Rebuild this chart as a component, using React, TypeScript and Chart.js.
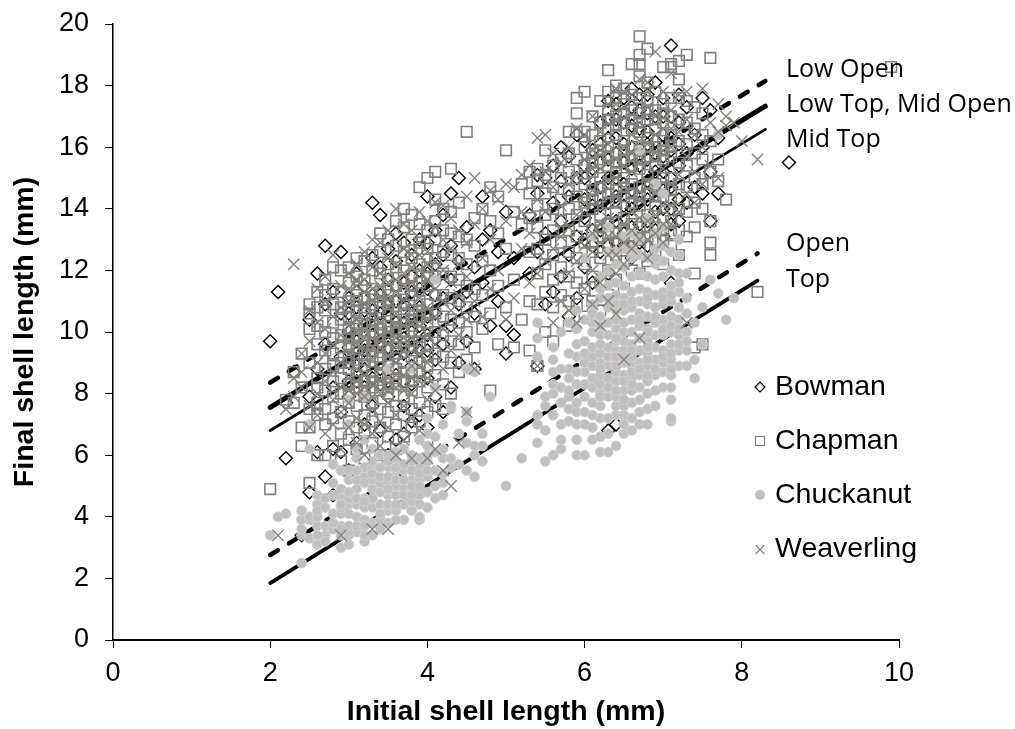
import React, { useEffect, useRef } from "react";
import { Chart, registerables } from "chart.js";

Chart.register(...registerables);

// Each row: initial shell length, then the final shell lengths read at that initial length
const bowmanRows = [
  [2.0, 9.7], [2.1, 11.3], [2.2, 5.9, 7.7], [2.3, 8.7], [2.4, 3.4], [2.5, 4.8, 7.9, 10.4], [2.6, 6.1, 8.8, 11.9],
  [2.7, 5.3, 9.6, 10.9, 12.8], [2.8, 4.7, 6.2, 8.2, 11.3], [2.9, 6.1, 7.4, 9.2, 10.6, 12.6], [3.0, 5.5, 7.9, 9.0, 10.0, 11.1],
  [3.1, 6.4, 8.4, 9.7, 10.8, 11.9], [3.2, 7.0, 8.8, 10.2, 11.5], [3.3, 5.6, 7.6, 9.4, 10.7, 12.4, 14.2], [3.4, 6.8, 8.3, 10.1, 11.2, 12.1, 13.8],
  [3.5, 6.0, 7.9, 9.0, 10.5, 11.7, 12.7], [3.6, 6.5, 8.6, 9.8, 11.0, 12.3, 13.2], [3.7, 6.7, 7.6, 9.3, 10.3, 11.6, 12.9], [3.8, 7.1, 8.9, 10.0, 11.3, 12.5],
  [3.9, 7.3, 9.4, 10.8, 12.0, 13.0], [4.0, 6.9, 8.5, 9.9, 11.4, 12.9, 14.4], [4.1, 7.9, 9.1, 10.6, 12.2, 13.3], [4.2, 7.4, 9.6, 11.1, 12.5, 13.8],
  [4.3, 8.2, 10.2, 11.7, 12.8, 14.5], [4.4, 9.0, 10.9, 12.3, 15.0], [4.5, 9.7, 11.3, 13.4], [4.6, 8.8, 10.6, 12.1], [4.7, 11.6, 13.0, 14.4],
  [4.8, 10.2, 13.3], [4.9, 11.0, 12.6], [5.0, 9.3, 10.2, 13.9], [5.1, 9.9, 12.4], [5.3, 11.9, 13.8], [5.4, 8.9, 12.6, 14.5, 15.1],
  [5.5, 10.9, 13.2, 15.0], [5.6, 11.3, 14.2, 15.4], [5.7, 11.8, 13.6, 14.9, 16.0], [5.8, 10.5, 12.5, 14.4, 15.7], [5.9, 11.1, 13.1, 15.0, 16.4],
  [6.0, 12.1, 13.7, 15.4, 16.2], [6.1, 11.6, 13.3, 14.6, 15.9], [6.2, 12.6, 14.1, 15.5, 16.8], [6.3, 6.8, 11.9, 13.6, 15.0, 16.3, 17.5], [6.4, 7.0, 12.9, 14.4, 15.8, 16.9],
  [6.5, 13.2, 14.8, 16.1, 17.6], [6.6, 12.4, 14.0, 15.3, 16.7, 17.9], [6.7, 13.5, 14.7, 15.9, 17.2], [6.8, 12.8, 14.3, 15.6, 16.5, 17.7], [6.9, 13.9, 15.2, 16.2, 18.1],
  [7.0, 13.1, 14.6, 15.7, 17.0], [7.1, 11.6, 14.0, 15.0, 16.3, 19.3], [7.2, 13.6, 15.4, 16.8, 17.7], [7.3, 14.2, 15.8, 17.3], [7.4, 14.7, 16.4],
  [7.5, 14.5, 16.0, 17.6], [7.6, 13.6, 15.2, 17.2], [7.7, 14.5, 16.3], [8.6, 15.5],
  // specks showing through the densest parts
  [3.0, 8.4, 9.5, 10.6], [3.1, 8.9, 10.2, 11.3], [3.2, 8.2, 9.4, 10.7], [3.3, 8.5, 9.9, 11.2], [3.4, 8.8, 9.6, 10.6], [3.5, 8.4, 9.5, 10.9], [3.6, 9.2, 10.3, 11.5],
  [3.7, 8.4, 9.8, 10.9], [3.8, 8.3, 9.5, 10.6, 11.8], [3.9, 8.7, 10.2, 11.4], [4.0, 9.4, 10.5, 11.9], [4.1, 9.8, 11.2],
  [6.0, 13.0, 14.3, 15.0], [6.1, 12.8, 14.1, 15.3], [6.2, 13.3, 14.7, 16.1], [6.3, 12.8, 14.2, 15.6, 16.9], [6.4, 13.6, 15.0, 16.3, 17.4], [6.5, 12.8, 14.1, 15.5, 16.8],
  [6.6, 13.4, 14.6, 16.0, 17.3], [6.7, 12.9, 14.2, 15.4, 16.6, 17.7], [6.8, 13.6, 14.9, 16.1, 17.1], [6.9, 13.3, 14.6, 15.8, 17.0], [7.0, 14.0, 15.2, 16.4, 17.6], [7.1, 13.5, 14.7, 15.9, 17.0], [7.2, 14.3, 16.1],
];
const chapmanRows = [
  [2.0, 4.9], [2.2, 7.8], [2.3, 7.7, 8.7], [2.4, 6.3, 6.9, 8.2, 9.3], [2.5, 5.1, 6.9, 7.5, 9.0, 10.1, 10.6, 10.9],
  [2.6, 6.0, 7.3, 7.7, 8.2, 8.5, 9.6, 10.2, 10.8, 11.3], [2.7, 6.0, 7.0, 7.5, 8.1, 8.8, 9.4, 10.0, 10.7, 11.2, 11.7],
  [2.8, 6.3, 7.2, 7.9, 8.4, 8.9, 9.3, 9.8, 10.3, 10.9, 11.4, 12.1], [2.9, 5.8, 6.7, 7.4, 8.0, 8.5, 9.0, 9.5, 9.9, 10.4, 10.8, 11.3, 12.0],
  [3.0, 5.5, 6.5, 7.1, 7.7, 8.3, 8.8, 9.2, 9.6, 10.1, 10.5, 11.0, 11.6, 12.1], [3.1, 6.2, 6.9, 7.6, 8.2, 8.6, 9.1, 9.5, 9.9, 10.3, 10.7, 11.2, 11.8, 12.4],
  [3.2, 5.9, 6.8, 7.3, 7.9, 8.4, 8.9, 9.3, 9.7, 10.2, 10.6, 11.1, 11.7, 12.3], [3.3, 6.4, 7.1, 7.7, 8.2, 8.7, 9.2, 9.6, 10.0, 10.4, 10.9, 11.4, 12.0, 12.5],
  [3.4, 6.0, 6.9, 7.5, 8.1, 8.6, 9.0, 9.5, 9.9, 10.3, 10.8, 11.3, 11.9, 12.6, 13.2], [3.5, 5.8, 6.6, 7.4, 8.0, 8.5, 8.9, 9.4, 9.8, 10.2, 10.7, 11.2, 11.7, 12.2, 13.0],
  [3.6, 6.2, 7.0, 7.6, 8.3, 8.8, 9.3, 9.7, 10.1, 10.5, 11.0, 11.5, 12.1, 12.8, 13.6], [3.7, 6.6, 7.3, 7.9, 8.4, 9.0, 9.5, 10.0, 10.4, 10.9, 11.4, 12.0, 12.6, 13.4, 14.0],
  [3.8, 6.9, 7.5, 8.1, 8.7, 9.2, 9.7, 10.2, 10.7, 11.2, 11.8, 12.4, 13.0, 13.8], [3.9, 7.1, 7.7, 8.4, 9.0, 9.5, 10.0, 10.5, 11.0, 11.6, 12.2, 12.9, 13.5, 14.7],
  [4.0, 6.5, 7.4, 8.2, 8.9, 9.6, 10.3, 10.9, 11.5, 12.1, 12.7, 13.3, 15.0], [4.1, 7.6, 8.6, 9.3, 10.0, 10.6, 11.2, 11.8, 12.4, 13.0, 13.6, 14.3, 15.2],
  [4.2, 7.5, 8.3, 9.2, 9.9, 10.5, 11.2, 11.9, 12.6, 13.3, 14.0], [4.3, 8.0, 9.0, 9.7, 10.4, 11.1, 11.8, 12.5, 13.2, 13.9, 15.3],
  [4.4, 8.7, 9.6, 10.3, 11.0, 11.7, 12.4, 13.1, 14.2], [4.5, 9.1, 10.0, 10.8, 11.5, 12.2, 13.0, 16.5], [4.6, 9.5, 10.5, 11.4, 12.8, 13.7],
  [4.7, 10.1, 11.2, 12.3, 14.0], [4.8, 8.1, 10.6, 12.0, 13.6, 14.7], [4.9, 9.6, 11.5, 13.2, 14.4], [5.0, 10.8, 12.7, 15.9], [5.1, 9.5, 11.7, 13.9],
  [5.2, 10.4, 13.5, 14.8], [5.3, 9.4, 11.0, 12.6, 13.7, 14.5, 15.2], [5.4, 8.9, 10.9, 11.9, 12.7, 13.4, 14.1, 14.9, 15.3],
  [5.5, 10.0, 11.3, 12.2, 13.0, 13.8, 14.5, 15.1, 15.9], [5.6, 9.7, 10.8, 11.7, 12.5, 13.3, 14.0, 14.7, 15.4], [5.7, 11.2, 12.1, 12.9, 13.6, 14.3, 15.0, 15.6],
  [5.8, 10.2, 11.0, 11.8, 12.6, 13.3, 14.0, 14.6, 15.2, 15.8, 16.5], [5.9, 10.9, 11.6, 12.4, 13.1, 13.8, 14.4, 15.0, 15.6, 16.5, 17.1, 17.6],
  [6.0, 10.5, 11.4, 12.2, 12.9, 13.6, 14.2, 14.8, 15.4, 16.0, 16.5, 17.8], [6.1, 11.0, 11.8, 12.6, 13.3, 14.0, 14.6, 15.2, 15.8, 16.4, 17.0],
  [6.2, 10.7, 11.6, 12.4, 13.1, 13.8, 14.4, 15.0, 15.6, 16.2, 16.8, 17.5], [6.3, 11.2, 12.0, 12.8, 13.5, 14.2, 14.8, 15.4, 16.0, 16.6, 17.2, 17.8, 18.5],
  [6.4, 11.7, 12.5, 13.2, 13.9, 14.6, 15.2, 15.8, 16.4, 17.0, 17.6, 18.0], [6.5, 11.4, 12.3, 13.0, 13.7, 14.4, 15.0, 15.6, 16.2, 16.8, 17.4, 17.9],
  [6.6, 12.0, 12.8, 13.5, 14.2, 14.8, 15.4, 16.0, 16.6, 17.2, 17.7, 18.7], [6.7, 11.9, 12.7, 13.4, 14.1, 14.7, 15.3, 15.9, 16.5, 17.1, 17.6, 18.3, 18.7, 19.0, 19.6],
  [6.8, 12.3, 13.1, 13.8, 14.5, 15.1, 15.7, 16.3, 16.9, 17.5, 18.1, 19.2], [6.9, 12.6, 13.4, 14.1, 14.8, 15.4, 16.0, 16.6, 17.2, 17.8],
  [7.0, 12.2, 13.0, 13.7, 14.4, 15.0, 15.6, 16.2, 16.8, 17.4, 18.6], [7.1, 12.8, 13.6, 14.3, 15.0, 15.7, 16.4, 17.0, 17.6, 18.6, 18.7],
  [7.2, 12.5, 13.3, 14.0, 14.8, 15.5, 16.2, 16.9, 17.6, 18.2, 18.8], [7.3, 13.1, 13.9, 14.7, 15.4, 16.1, 16.8, 17.5, 19.0], [7.4, 9.5, 11.9, 13.4, 14.2, 15.0, 15.8, 16.6, 17.3],
  [7.5, 9.6, 14.0, 14.8, 15.6, 16.4, 17.1], [7.6, 12.5, 12.9, 13.6, 15.2, 16.2, 18.9], [7.7, 14.9, 15.6], [7.8, 14.3], [8.2, 11.3], [9.9, 18.6],
  // densest parts of both clumps
  [3.0, 8.0, 9.0, 9.8, 10.8], [3.1, 8.4, 9.3, 10.1, 11.0], [3.2, 8.1, 9.1, 9.9, 10.8], [3.3, 8.4, 9.4, 10.2],
  [3.4, 8.3, 9.2, 10.1, 11.0], [3.5, 8.2, 9.1, 10.0, 10.9], [3.6, 8.5, 9.5, 10.3], [3.7, 8.7, 9.7, 10.6],
  [3.8, 8.4, 9.4, 10.4, 11.5], [3.9, 8.7, 9.7, 10.7], [4.0, 9.2, 10.6, 11.8],
  [6.1, 12.9, 14.3, 15.5], [6.2, 13.4, 14.7, 15.9], [6.3, 13.2, 14.5, 15.7, 16.9], [6.4, 12.9, 14.2, 15.5, 16.7], [6.5, 13.3, 14.7, 15.9, 17.1],
  [6.6, 13.1, 14.5, 15.7, 16.9], [6.7, 13.0, 14.4, 15.6, 16.8], [6.8, 13.4, 14.8, 16.0, 17.2], [6.9, 13.0, 14.4, 15.7, 16.9], [7.0, 13.3, 14.7, 15.9, 17.1], [7.1, 13.2, 14.6, 16.0],
];
const chuckanutRows = [
  [2.0, 3.4], [2.1, 4.0], [2.2, 4.1], [2.4, 2.5, 3.4, 3.6, 3.9, 4.2], [2.5, 3.3, 3.9, 4.0, 6.2, 7.0], [2.6, 3.1, 3.7, 4.0, 4.4, 4.7],
  [2.7, 3.4, 3.7, 4.6], [2.8, 3.6, 4.1, 5.1, 5.7], [2.9, 3.0, 3.4, 3.7, 4.1, 4.3, 4.6, 4.9, 5.5], [3.0, 3.1, 3.7, 4.1, 4.4, 4.6, 5.2, 7.0, 7.8],
  [3.1, 3.5, 4.0, 4.4, 4.9, 5.9, 6.2], [3.2, 3.2, 3.4, 3.9, 4.3, 4.6, 5.3, 5.6, 6.5, 7.9], [3.3, 3.8, 4.3, 4.6, 5.2, 5.6, 6.2], [3.4, 3.7, 3.9, 4.4, 5.1, 6.0],
  [3.5, 3.8, 4.2, 4.7, 5.1, 5.6, 6.0, 8.8], [3.6, 4.2, 4.7, 5.0, 5.5, 5.8, 6.1], [3.7, 3.9, 4.4, 4.9, 5.5, 6.2], [3.8, 4.2, 4.5, 4.9, 5.2, 5.8, 8.8],
  [3.9, 3.9, 4.0, 4.7, 5.2, 5.6, 5.9, 6.5], [4.0, 4.3, 5.3, 6.0, 6.7, 7.2], [4.1, 4.6, 6.6, 8.2, 11.7], [4.2, 4.7, 5.1, 5.9, 7.0], [4.3, 5.6, 5.9, 7.5, 7.6],
  [4.4, 5.7, 6.7], [4.5, 5.5, 6.4, 7.1, 7.4, 8.8], [4.6, 5.3, 6.0, 6.3, 8.7], [4.7, 5.8, 6.3, 6.7], [4.8, 7.9], [5.0, 5.0], [5.2, 5.9],
  [5.4, 6.4, 7.0, 7.3, 9.2, 9.8, 10.3], [5.5, 5.8, 6.8, 7.6, 7.9], [5.6, 6.0, 7.3, 8.3, 9.1, 9.5], [5.7, 6.2, 6.5, 7.0, 7.7, 10.0],
  [5.8, 7.5, 7.9, 8.5, 8.8, 10.3], [5.9, 6.0, 6.5, 7.0, 7.4, 7.7, 9.2, 10.1, 10.7], [6.0, 6.0, 7.0, 7.4, 7.9, 8.7, 9.0, 9.3, 12.4], [6.1, 6.5, 6.9, 8.2, 8.5, 8.9, 9.2, 10.0, 10.3, 10.6, 13.1],
  [6.2, 6.1, 6.6, 7.2, 7.6, 8.0, 8.3, 8.6, 9.0, 9.3, 9.9, 10.2, 10.5, 11.1, 11.4], [6.3, 6.1, 6.7, 8.5, 8.9, 9.2, 9.5, 9.9, 10.3, 10.8, 11.1, 11.5, 12.0, 13.4],
  [6.4, 6.3, 7.3, 7.6, 8.4, 8.7, 9.0, 9.4, 9.7, 10.1, 10.4, 10.7, 11.2, 11.6, 12.2], [6.5, 6.7, 7.0, 7.3, 7.6, 8.1, 8.6, 9.0, 9.4, 9.7, 10.0, 10.3, 10.7, 11.1, 11.5, 12.1, 13.1],
  [6.6, 6.8, 7.2, 7.7, 8.1, 8.5, 8.9, 9.2, 9.6, 10.0, 10.4, 10.8, 11.3, 11.8, 12.4, 13.2], [6.7, 7.0, 7.4, 7.8, 8.2, 8.6, 9.0, 9.4, 9.8, 10.2, 10.6, 11.0, 11.4, 11.9, 12.5, 15.9],
  [6.8, 7.0, 7.5, 8.0, 8.4, 8.9, 9.3, 9.7, 10.1, 10.5, 10.9, 11.3, 11.8, 12.4, 13.7], [6.9, 7.6, 8.1, 8.6, 9.1, 9.5, 9.9, 10.3, 10.8, 11.2, 11.7, 12.2, 12.7, 13.2, 14.8],
  [7.0, 8.2, 8.7, 9.0, 9.4, 9.9, 10.4, 10.9, 11.3, 11.8, 12.3, 12.8, 14.5], [7.1, 7.1, 7.2, 7.8, 8.2, 8.6, 9.1, 9.6, 10.0, 10.5, 11.0, 11.5, 12.0, 12.6], [7.2, 8.9, 9.4, 9.9, 10.4, 10.8, 11.3, 11.9, 12.5],
  [7.3, 8.9, 9.4, 10.0, 11.1, 11.9], [7.4, 8.5, 9.1, 10.3], [7.5, 9.6, 10.8], [7.6, 11.7], [7.7, 11.25, 16.4], [7.8, 10.4], [7.9, 11.1],
  // fuller parts of both clumps
  [2.6, 3.4, 4.2], [2.7, 3.2, 4.3], [2.8, 3.8, 4.7], [2.9, 3.6, 4.4], [3.0, 3.4, 4.8, 5.5], [3.1, 3.7, 4.6, 5.2, 5.5], [3.2, 3.7, 4.5, 5.1],
  [3.3, 3.4, 4.9, 5.4, 5.8], [3.4, 3.6, 4.1, 4.8, 5.3, 5.6], [3.5, 4.4, 4.9, 5.3, 5.8], [3.6, 3.9, 4.4, 5.2, 5.6],
  [3.7, 4.7, 5.2, 5.7], [3.8, 4.7, 5.0, 5.5, 6.0], [3.9, 4.4, 5.0, 5.4], [4.0, 4.8, 5.5, 5.8, 6.3], [4.1, 5.0, 5.5, 6.1], [4.2, 5.4, 6.2],
  [5.6, 8.0, 8.7], [5.7, 8.2, 8.8], [5.8, 7.1, 8.1, 9.3], [5.9, 8.3, 8.7, 9.6], [6.0, 8.3, 9.7, 10.4], [6.1, 7.3, 7.7, 9.5, 10.9], [6.2, 7.9, 8.8, 9.6, 11.8], [6.3, 7.2, 7.9, 8.2, 12.6],
  [6.4, 7.9, 8.1, 8.9, 9.2, 9.8, 10.9, 12.6], [6.5, 7.8, 8.4, 9.2, 10.9, 12.7], [6.6, 8.3, 8.7, 9.4, 11.0, 12.7], [6.7, 8.8, 10.4, 13.0], [6.8, 8.6, 9.1, 9.5, 10.0, 11.1],
  [6.9, 8.8, 10.5, 12.4], [7.0, 9.2, 10.1, 11.1, 13.4], [7.1, 8.8, 9.3, 10.2, 11.2], [7.2, 9.6, 10.1, 11.6, 13.0], [7.3, 9.7, 10.6],
];
const weaverlingRows = [
  [2.1, 3.4], [2.2, 7.5], [2.3, 7.9, 8.5, 12.2], [2.4, 8.2, 8.7, 9.3], [2.5, 6.9, 7.6, 9.7, 10.7], [2.6, 7.3, 8.0, 9.0, 10.3, 11.4],
  [2.7, 6.7, 8.4, 9.3, 10.1, 11.0, 11.8], [2.8, 7.0, 7.8, 8.7, 9.6, 10.5, 12.5], [2.9, 3.4, 6.2, 7.4, 8.2, 9.0, 9.9, 10.8, 11.5], [3.0, 6.9, 7.7, 8.5, 9.3, 10.2, 11.0, 11.9],
  [3.1, 6.4, 7.2, 8.0, 8.8, 9.6, 10.4, 11.5, 12.2], [3.2, 6.0, 7.0, 7.9, 8.6, 9.4, 10.1, 10.9, 11.7, 12.6], [3.3, 3.6, 6.7, 7.5, 8.3, 9.1, 9.8, 10.6, 11.4, 12.1, 13.0],
  [3.4, 6.3, 7.1, 8.0, 8.8, 9.5, 10.3, 11.1, 11.9, 12.9], [3.5, 3.6, 6.9, 7.7, 8.5, 9.2, 10.0, 10.8, 11.6, 12.4, 13.3], [3.6, 6.0, 7.3, 8.2, 9.0, 9.8, 10.6, 11.3, 12.2, 14.0],
  [3.7, 6.5, 7.6, 8.6, 9.4, 10.2, 11.0, 11.9, 12.7, 13.5], [3.8, 5.9, 7.2, 8.0, 8.9, 9.8, 10.7, 11.6, 12.5, 13.3], [3.9, 6.8, 8.4, 9.3, 10.2, 11.1, 12.0, 12.9, 13.9],
  [4.0, 5.9, 7.8, 9.0, 9.9, 10.8, 11.7, 12.6, 13.6], [4.1, 6.2, 8.1, 9.6, 10.5, 11.4, 12.3, 13.4, 14.2], [4.2, 5.5, 8.8, 10.1, 11.0, 12.0, 13.0, 14.1],
  [4.3, 5.0, 9.4, 10.7, 11.6, 12.7, 13.7], [4.4, 6.4, 9.9, 11.2, 12.2, 13.3], [4.5, 7.4, 10.4, 11.8, 12.9, 14.4], [4.6, 8.8, 11.0, 13.5, 15.0],
  [4.7, 10.5, 12.4, 14.0], [4.8, 11.4, 13.0, 14.6], [4.9, 12.0, 14.3], [5.0, 10.4, 13.6, 14.8], [5.1, 11.1, 14.7], [5.2, 12.7, 13.9, 15.1],
  [5.3, 11.6, 13.2, 15.4], [5.4, 8.9, 11.9, 14.3, 16.3], [5.5, 12.3, 13.9, 15.2, 16.4], [5.6, 10.3, 12.7, 14.7, 15.8], [5.7, 11.0, 13.1, 14.1, 15.5],
  [5.8, 10.7, 11.9, 13.4, 14.8, 16.0], [5.9, 10.3, 12.3, 13.8, 15.1, 16.6], [6.0, 11.4, 12.8, 14.2, 15.6, 16.4], [6.1, 10.9, 12.0, 13.2, 14.6, 15.9, 17.0],
  [6.2, 10.2, 11.6, 12.9, 14.1, 15.3, 16.5], [6.3, 11.0, 12.5, 13.7, 14.9, 16.1, 17.4], [6.4, 10.6, 11.9, 13.1, 14.4, 15.6, 16.9, 17.9], [6.5, 9.1, 12.2, 13.5, 14.7, 16.0, 17.3],
  [6.6, 12.7, 13.9, 15.2, 16.4, 17.7], [6.7, 9.8, 13.0, 14.3, 15.5, 16.8, 18.2], [6.8, 12.4, 13.6, 14.9, 16.1, 17.3, 18.1], [6.9, 13.2, 14.5, 15.8, 17.0, 19.1],
  [7.0, 12.9, 14.1, 15.3, 16.6, 17.8], [7.1, 13.5, 14.8, 16.0, 17.2, 18.4], [7.2, 13.9, 15.1, 16.5, 17.7], [7.3, 10.3, 14.5, 15.7, 16.9, 17.8], [7.4, 14.2, 15.2, 16.4],
  [7.5, 14.8, 16.0, 17.9], [7.6, 15.4, 16.8], [7.7, 15.0, 16.5, 17.4], [7.8, 16.7, 17.0], [7.9, 16.8], [8.0, 16.2], [8.2, 15.6],
  // densest parts of both clumps
  [3.0, 8.1, 9.7, 11.4], [3.1, 8.4, 10.0, 11.7], [3.2, 8.2, 9.8, 11.3], [3.3, 7.9, 9.5, 11.0],
  [3.4, 8.4, 9.9, 11.5], [3.5, 8.1, 9.6, 11.2], [3.6, 8.6, 10.2, 11.7], [3.7, 8.1, 9.8, 11.5], [3.8, 8.5, 10.3, 12.1], [3.9, 8.9, 10.7, 12.5], [4.0, 8.5, 10.4, 12.2],
  [6.1, 12.6, 15.3], [6.2, 13.5, 15.9], [6.3, 13.1, 15.5], [6.4, 12.5, 15.0, 17.4], [6.5, 12.9, 15.4, 17.8], [6.6, 13.3, 15.8], [6.7, 13.7, 16.2], [6.8, 13.0, 15.5, 17.8],
  [6.9, 13.8, 16.4], [7.0, 13.5, 15.9], [7.1, 14.1, 16.6],
];

const fitNames = ["Low Open", "Low Top, Mid Open", "Mid Top", "Open", "Top"];
const fitStartX = [2, 2, 2, 2, 2];
const fitEndX = [8.3, 8.3, 8.3, 8.2, 8.2];
const fitStartY = [8.36, 7.55, 6.8, 2.76, 1.85];
const fitEndY = [18.15, 17.33, 16.58, 12.55, 11.67];

const legendNames = ["Bowman", "Chapman", "Chuckanut", "Weaverling"];
const xTitle = "Initial shell length (mm)";
const yTitle = "Final shell length (mm)";

const toPoints = (rows: number[][]) =>
  rows.flatMap(([x, ...ys]) => ys.map((y) => ({ x, y })));

const fitStyle = [
  { w: 4.5, dash: [9, 13] },
  { w: 5, dash: [] },
  { w: 2.8, dash: [] },
  { w: 4.5, dash: [9, 13] },
  { w: 3.8, dash: [] },
];

const overlay = {
  id: "overlay",
  afterDraw(chart: any) {
    const { ctx } = chart;
    ctx.save();
    ctx.fillStyle = "#000";
    ctx.textBaseline = "middle";
    ctx.textAlign = "left";
    ctx.font = '25px "Open Sans"';
    const labelY = [70, 105, 140, 244, 280];
    fitNames.forEach((n, i) => ctx.fillText(n, 786, labelY[i]));

    ctx.font = '28.5px "Liberation Sans"';
    const legendY = [387, 441, 495, 549];
    legendNames.forEach((n, i) => ctx.fillText(n, 775, legendY[i]));

    const mx = 760;
    ctx.lineWidth = 1.2;
    // diamond
    ctx.strokeStyle = "#000";
    ctx.beginPath();
    ctx.moveTo(mx - 5, 387);
    ctx.lineTo(mx, 382);
    ctx.lineTo(mx + 5, 387);
    ctx.lineTo(mx, 392);
    ctx.closePath();
    ctx.stroke();
    // square
    ctx.strokeStyle = "#808080";
    ctx.strokeRect(mx - 4.5, 436.5, 9, 9);
    // circle
    ctx.fillStyle = "#c0c0c0";
    ctx.beginPath();
    ctx.arc(mx, 495, 5, 0, Math.PI * 2);
    ctx.fill();
    // cross
    ctx.strokeStyle = "#86837a";
    ctx.beginPath();
    ctx.moveTo(mx - 4.5, 545);
    ctx.lineTo(mx + 4.5, 554);
    ctx.moveTo(mx + 4.5, 545);
    ctx.lineTo(mx - 4.5, 554);
    ctx.stroke();
    ctx.restore();
  },
};

export default function App() {
  const ref = useRef<HTMLCanvasElement>(null);
  useEffect(() => {
    const fits = fitNames.map((name, i) => ({
      type: "scatter" as const,
      label: name,
      data: [
        { x: fitStartX[i], y: fitStartY[i] },
        { x: fitEndX[i], y: fitEndY[i] },
      ],
      showLine: true,
      pointRadius: 0,
      borderColor: "#000",
      backgroundColor: "#000",
      borderWidth: fitStyle[i].w,
      borderDash: fitStyle[i].dash,
      borderCapStyle: "round" as const,
      order: 10 + i,
      clip: false,
    }));
    const chart = new Chart(ref.current!, {
      type: "scatter",
      data: {
        datasets: [
          {
            label: legendNames[3],
            data: toPoints(weaverlingRows),
            pointStyle: "crossRot",
            pointRadius: 8,
            pointBorderColor: "#86837a",
            pointBorderWidth: 1.4,
            pointBackgroundColor: "transparent",
            order: 0,
          },
          {
            label: legendNames[2],
            data: toPoints(chuckanutRows),
            pointStyle: "circle",
            pointRadius: 5,
            pointBorderColor: "#d4d4d4",
            pointBorderWidth: 0.8,
            pointBackgroundColor: "#c0c0c0",
            order: 1,
          },
          {
            label: legendNames[1],
            data: toPoints(chapmanRows),
            pointStyle: "rect",
            pointRadius: 7.5,
            pointBorderColor: "#808080",
            pointBorderWidth: 1.6,
            pointBackgroundColor: "transparent",
            order: 2,
          },
          {
            label: legendNames[0],
            data: toPoints(bowmanRows),
            pointStyle: "rectRot",
            pointRadius: 6.5,
            pointBorderColor: "#000",
            pointBorderWidth: 1.4,
            pointBackgroundColor: "transparent",
            order: 3,
          },
          ...fits,
        ],
      },
      options: {
        responsive: false,
        animation: false,
        layout: { padding: { left: 0, right: 116, top: 24, bottom: 0 } },
        plugins: { legend: { display: false }, tooltip: { enabled: false } },
        scales: {
          x: {
            type: "linear",
            min: 0,
            max: 10,
            afterFit: (s: any) => {
              s.height = 89;
            },
            title: {
              display: true,
              text: xTitle,
              color: "#000",
              font: { family: "Liberation Sans", size: 28.5, weight: "bold" },
              padding: { top: 4, bottom: 0 },
            },
            grid: { drawOnChartArea: false, color: "#000", tickLength: 8 },
            border: { color: "#000", width: 2 },
            ticks: {
              stepSize: 2,
              color: "#000",
              font: { family: "Liberation Sans", size: 27 },
              maxRotation: 0,
              padding: 9,
            },
          },
          y: {
            type: "linear",
            min: 0,
            max: 20,
            afterFit: (s: any) => {
              s.width = 113;
              s.paddingTop = 0;
              s.paddingBottom = 0;
            },
            title: {
              display: true,
              text: yTitle,
              color: "#000",
              font: { family: "Liberation Sans", size: 28.5, weight: "bold" },
              padding: { top: 8, bottom: 0 },
            },
            grid: { drawOnChartArea: false, color: "#000", tickLength: 8 },
            border: { color: "#000", width: 1.5 },
            ticks: {
              stepSize: 2,
              color: "#000",
              font: { family: "Liberation Sans", size: 27 },
              padding: 16,
            },
          },
        },
      },
      plugins: [overlay],
    } as any);
    return () => chart.destroy();
  }, []);
  return (
    <div style={{ position: "absolute", left: 0, top: 0, width: 1015, height: 729, background: "#fff" }}>
      <canvas ref={ref} width={1015} height={729} style={{ display: "block" }} />
    </div>
  );
}
